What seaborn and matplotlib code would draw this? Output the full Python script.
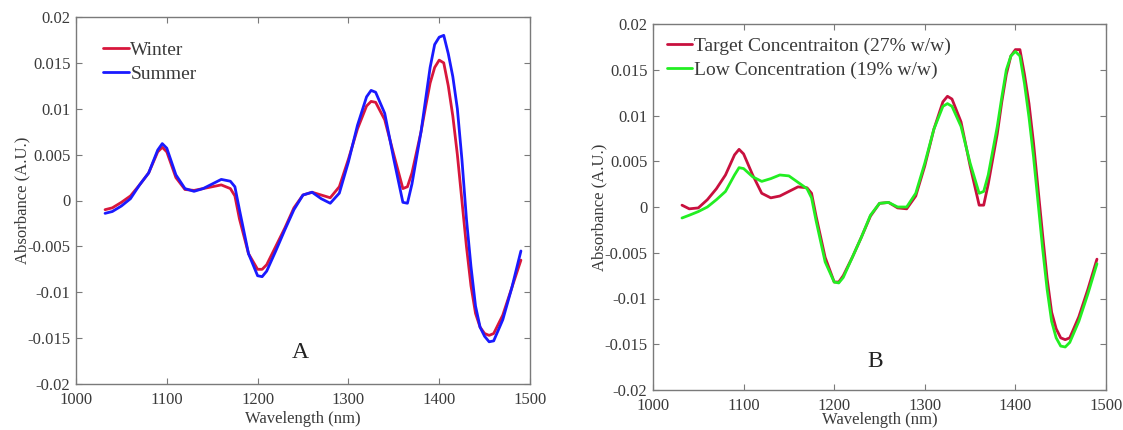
import matplotlib
matplotlib.use("Agg")
import matplotlib.pyplot as plt
import seaborn as sns

# ---------------- data ----------------
wl = [1032, 1040, 1050, 1060, 1070, 1080, 1090, 1095, 1100, 1110, 1120, 1130, 1140,
      1150, 1160, 1170, 1175, 1180, 1190, 1200, 1205, 1210, 1220, 1230, 1240, 1250,
      1260, 1270, 1280, 1290, 1300, 1310, 1320, 1325, 1330, 1340, 1350, 1360, 1365,
      1370, 1380, 1385, 1390, 1395, 1400, 1405, 1410, 1415, 1420, 1425, 1430, 1435,
      1440, 1445, 1450, 1455, 1460, 1470, 1480, 1490]

winter = [-0.0010, -0.0008, -0.0002, 0.0005, 0.0017, 0.0030, 0.0053, 0.0058, 0.0053,
          0.0025, 0.0012, 0.0011, 0.0013, 0.0015, 0.0017, 0.0013, 0.0005, -0.0020,
          -0.0058, -0.0075, -0.0075, -0.0070, -0.0050, -0.0030, -0.0008, 0.0006,
          0.0009, 0.0006, 0.0003, 0.0015, 0.0045, 0.0078, 0.0103, 0.0108, 0.0107,
          0.0088, 0.0050, 0.0013, 0.0015, 0.0030, 0.0075, 0.0102, 0.0128, 0.0145,
          0.0153, 0.0150, 0.0125, 0.0092, 0.0050, 0.0000, -0.0050, -0.0093, -0.0123,
          -0.0138, -0.0145, -0.0147, -0.0145, -0.0125, -0.0095, -0.0065]

summer = [-0.0014, -0.0012, -0.0006, 0.0002, 0.0017, 0.0030, 0.0055, 0.0062, 0.0057,
          0.0028, 0.0013, 0.0010, 0.0013, 0.0018, 0.0023, 0.0021, 0.0015, -0.0010,
          -0.0058, -0.0082, -0.0083, -0.0077, -0.0055, -0.0032, -0.0010, 0.0006,
          0.0009, 0.0002, -0.0003, 0.0008, 0.0042, 0.0082, 0.0113, 0.0120, 0.0118,
          0.0095, 0.0045, -0.0002, -0.0003, 0.0018, 0.0075, 0.0110, 0.0145, 0.0170,
          0.0178, 0.0180, 0.0160, 0.0135, 0.0100, 0.0045, -0.0020, -0.0072, -0.0115,
          -0.0138, -0.0148, -0.0154, -0.0153, -0.0130, -0.0095, -0.0055]

target = [0.0002, -0.0002, -0.0001, 0.0008, 0.0020, 0.0035, 0.0057, 0.0063, 0.0058,
          0.0035, 0.0015, 0.0010, 0.0012, 0.0017, 0.0022, 0.0021, 0.0015, -0.0010,
          -0.0055, -0.0082, -0.0082, -0.0075, -0.0055, -0.0033, -0.0010, 0.0004,
          0.0005, -0.0001, -0.0002, 0.0012, 0.0045, 0.0085, 0.0115, 0.0121, 0.0118,
          0.0093, 0.0045, 0.0002, 0.0002, 0.0025, 0.0080, 0.0115, 0.0145, 0.0165,
          0.0172, 0.0172, 0.0145, 0.0113, 0.0070, 0.0020, -0.0030, -0.0078, -0.0115,
          -0.0133, -0.0143, -0.0145, -0.0143, -0.0120, -0.0090, -0.0057]

low = [-0.0012, -0.0009, -0.0005, 0.0000, 0.0008, 0.0017, 0.0035, 0.0043, 0.0042,
       0.0033, 0.0028, 0.0031, 0.0035, 0.0034, 0.0027, 0.0020, 0.0010, -0.0015,
       -0.0060, -0.0082, -0.0083, -0.0077, -0.0055, -0.0033, -0.0009, 0.0004,
       0.0005, 0.0000, 0.0000, 0.0015, 0.0048, 0.0085, 0.0110, 0.0113, 0.0110,
       0.0088, 0.0048, 0.0015, 0.0017, 0.0035, 0.0088, 0.0120, 0.0150, 0.0165,
       0.0170, 0.0165, 0.0135, 0.0098, 0.0055, 0.0005, -0.0045, -0.0090, -0.0125,
       -0.0143, -0.0152, -0.0153, -0.0148, -0.0125, -0.0095, -0.0062]

x_ticks = [1000, 1100, 1200, 1300, 1400, 1500]
y_ticks = [-0.02, -0.015, -0.01, -0.005, 0, 0.005, 0.01, 0.015, 0.02]
y_tick_labels = ["-0.02", "-0.015", "-0.01", "-0.005", "0", "0.005", "0.01", "0.015", "0.02"]

# ---------------- style ----------------
sns.set_theme(style="white")
plt.rcParams['font.family'] = ['Liberation Serif', 'DejaVu Serif']
TXT = "#3a3a3a"
SPINE = "#7a7a7a"

fig = plt.figure(figsize=(11.23, 4.30), dpi=100)
axA = fig.add_axes([76 / 1123, (430 - 384) / 430, 454 / 1123, 367 / 430])
axB = fig.add_axes([653 / 1123, (430 - 390) / 430, 453 / 1123, 366 / 430])

RED = "#d8173c"
BLUE = "#1a1aff"
CRIMSON = "#c8103e"
GREEN = "#22ee22"

sns.lineplot(x=wl, y=winter, ax=axA, color=RED, lw=2.0, label="Winter")
sns.lineplot(x=wl, y=summer, ax=axA, color=BLUE, lw=2.0, label="Summer")
sns.lineplot(x=wl, y=target, ax=axB, color=CRIMSON, lw=2.0, label="Target Concentraiton (27% w/w)")
sns.lineplot(x=wl, y=low, ax=axB, color=GREEN, lw=2.0, label="Low Concentration (19% w/w)")

for ax, letter, lx, ly, xpad in [(axA, "A", 1247, -0.0172, 2), (axB, "B", 1245, -0.0175, -1.5)]:
    ax.set_xlim(1000, 1500)
    ax.set_ylim(-0.02, 0.02)
    ax.set_xticks(x_ticks)
    ax.set_xticklabels([str(t) for t in x_ticks])
    ax.set_yticks(y_ticks)
    ax.set_yticklabels(y_tick_labels)
    ax.tick_params(direction="in", length=4, width=0.8, color=SPINE,
                   top=True, right=True, bottom=True, left=True,
                   labelsize=12, labelcolor=TXT)
    ax.tick_params(axis="x", pad=6)
    ax.tick_params(axis="y", pad=4)
    for s in ax.spines.values():
        s.set_color(SPINE)
        s.set_linewidth(1.0)
    ax.set_xlabel("Wavelength (nm)", fontsize=12, color=TXT, labelpad=xpad)
    ax.set_ylabel("Absorbance (A.U.)", fontsize=12, color=TXT, labelpad=-2)
    ax.text(lx, ly, letter, fontsize=17, color="#222222", ha="center", va="baseline")
    leg = ax.legend(loc="upper left", frameon=False, fontsize=14, handlelength=1.3,
                    handletextpad=0.1, borderaxespad=0.3, labelspacing=0.3,
                    bbox_to_anchor=(0.03, 0.97) if ax is axA else (0.0, 1.0))
    for t in leg.get_texts():
        t.set_color(TXT)
    for h in leg.get_lines():
        h.set_linewidth(2.0)

fig.savefig("out.png", dpi=100)
